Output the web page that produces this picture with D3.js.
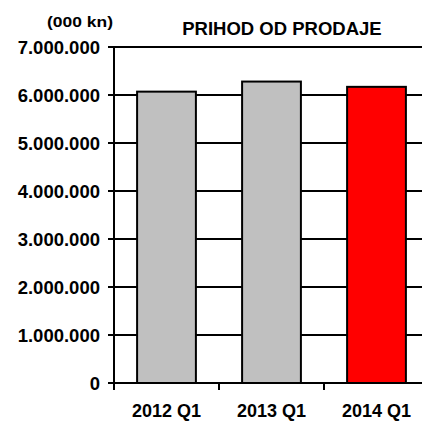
<!DOCTYPE html>
<html>
<head>
<meta charset="utf-8">
<script src="https://cdn.jsdelivr.net/npm/d3@7"></script>
<style>
body { margin: 0; background: #fff; }
text { font-family: "Liberation Sans", Arial, sans-serif; font-weight: bold; }
</style>
</head>
<body>
<script>
// podaci
const kvartali = ["2012 Q1", "2013 Q1", "2014 Q1"];
const prihod = [6070000, 6280000, 6170000];
const boje = ["#c0c0c0", "#c0c0c0", "#ff0000"];
const yTicks = [0, 1000000, 2000000, 3000000, 4000000, 5000000, 6000000, 7000000];

const width = 422, height = 421;
const margin = { left: 114, right: -7, top: 47, bottom: 38 };

const svg = d3.select("body").append("svg")
    .attr("width", width)
    .attr("height", height);

const x = d3.scaleBand()
    .domain(kvartali)
    .range([margin.left, width - margin.right])
    .paddingInner(0.44)
    .paddingOuter(0.22);

const y = d3.scaleLinear()
    .domain([0, 7000000])
    .range([height - margin.bottom, margin.top]);

// format s tockama
const fmt = v => d3.format(",")(v).replace(/,/g, ".");

// mreza
svg.append("g")
    .selectAll("line")
    .data(yTicks)
    .enter()
    .append("line")
    .attr("x1", margin.left - 6)
    .attr("x2", width)
    .attr("y1", d => y(d))
    .attr("y2", d => y(d))
    .attr("stroke", "#000")
    .attr("stroke-width", 2);

svg.append("g")
    .selectAll("text")
    .data(yTicks)
    .enter()
    .append("text")
    .attr("x", margin.left - 14)
    .attr("y", d => y(d) + 6.5)
    .attr("text-anchor", "end")
    .style("font-size", "18.5px")
    .text(d => fmt(d));

// stupci
svg.append("g")
    .selectAll("rect")
    .data(prihod)
    .enter()
    .append("rect")
    .attr("x", (d, i) => x(kvartali[i]))
    .attr("y", d => y(d))
    .attr("width", x.bandwidth())
    .attr("height", d => y(0) - y(d))
    .attr("fill", (d, i) => boje[i])
    .attr("stroke", "#000")
    .attr("stroke-width", 2);

// os y
svg.append("line")
    .attr("x1", margin.left).attr("x2", margin.left)
    .attr("y1", margin.top).attr("y2", y(0) + 7)
    .attr("stroke", "#000").attr("stroke-width", 2);

// os x
const step = x.step();
const start = margin.left;
svg.append("line")
    .attr("x1", margin.left).attr("x2", width)
    .attr("y1", y(0)).attr("y2", y(0))
    .attr("stroke", "#000").attr("stroke-width", 2);

svg.append("g")
    .selectAll("line")
    .data(kvartali)
    .enter()
    .append("line")
    .attr("x1", (d, i) => start + i * step)
    .attr("x2", (d, i) => start + i * step)
    .attr("y1", y(0))
    .attr("y2", y(0) + 7)
    .attr("stroke", "#000").attr("stroke-width", 2);

svg.append("g")
    .selectAll("text")
    .data(kvartali)
    .enter()
    .append("text")
    .attr("x", d => x(d) + x.bandwidth() / 2)
    .attr("y", 417)
    .attr("text-anchor", "middle")
    .style("font-size", "18px")
    .text(d => d);

// naslovi
svg.append("text")
    .attr("x", 282).attr("y", 35)
    .attr("text-anchor", "middle")
    .style("font-size", "18.5px")
    .text("PRIHOD OD PRODAJE");

svg.append("text")
    .attr("x", 47).attr("y", 27)
    .attr("textLength", 66)
    .attr("lengthAdjust", "spacingAndGlyphs")
    .style("font-size", "14.5px")
    .text("(000 kn)");
</script>
</body>
</html>
